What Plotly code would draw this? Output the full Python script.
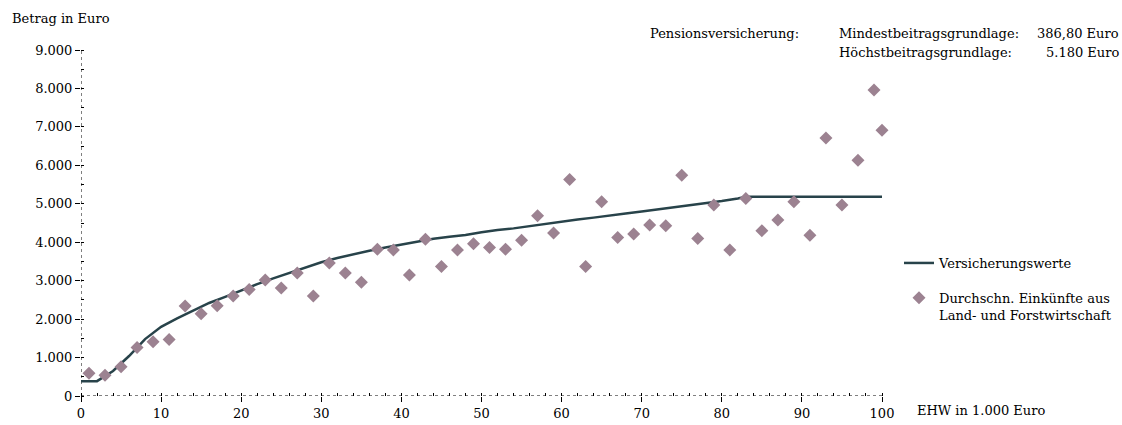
import plotly.graph_objects as go

# Versicherungswerte (Linie)
line_x = [0, 2, 4, 6, 8, 10, 12, 14, 16, 18, 20, 22, 24, 26, 28, 30, 32, 34, 36, 38, 40,
          42, 44, 46, 48, 50, 52, 54, 56, 58, 60, 62, 64, 66, 68, 70, 72, 74, 76, 78, 80,
          82, 83, 100]
line_y = [386.8, 386.8, 650, 1040, 1480, 1800, 2020, 2230, 2420, 2580, 2750, 2910, 3060,
          3200, 3350, 3480, 3590, 3690, 3780, 3860, 3940, 4020, 4090, 4140, 4190, 4260,
          4320, 4360, 4420, 4480, 4540, 4590, 4640, 4700, 4750, 4800, 4850, 4910, 4960,
          5010, 5070, 5140, 5180, 5180]

# Durchschn. Einkuenfte aus Land- und Forstwirtschaft (Punkte)
pts_x = [1, 3, 5, 7, 9, 11, 13, 15, 17, 19, 21, 23, 25, 27, 29, 31, 33, 35, 37, 39,
         41, 43, 45, 47, 49, 51, 53, 55, 57, 59, 61, 63, 65, 67, 69, 71, 73, 75, 77, 79,
         81, 83, 85, 87, 89, 91, 93, 95, 97, 99, 100]
pts_y = [590, 540, 760, 1260, 1410, 1470, 2340, 2140, 2350, 2600, 2770, 3020, 2810, 3200,
         2600, 3460, 3200, 2960, 3820, 3800, 3150, 4080, 3370, 3800, 3960, 3860, 3820,
         4050, 4690, 4240, 5630, 3370, 5050, 4120, 4215, 4450, 4430, 5740, 4100, 4970,
         3800, 5140, 4300, 4580, 5050, 4180, 6710, 4970, 6130, 7960, 6910]

y_ticks = [0, 1000, 2000, 3000, 4000, 5000, 6000, 7000, 8000, 9000]
y_labels = ["0", "1.000", "2.000", "3.000", "4.000", "5.000", "6.000", "7.000", "8.000", "9.000"]
x_ticks = [0, 10, 20, 30, 40, 50, 60, 70, 80, 90, 100]

FONT = "DejaVu Serif"
LINE_COL = "#28434a"
PT_COL = "#9c8291"

fig = go.Figure()
fig.add_trace(go.Scatter(x=line_x, y=line_y, mode="lines", name="Versicherungswerte",
                         legendgroup="a",
                         line=dict(color=LINE_COL, width=2.5), cliponaxis=False))
fig.add_trace(go.Scatter(x=pts_x, y=pts_y, mode="markers", legendgroup="b",
                         name="Durchschn. Einkünfte aus<br>Land- und Forstwirtschaft",
                         marker=dict(symbol="diamond", size=10, color=PT_COL), cliponaxis=False))

# gepunktete Achsenlinien
fig.add_shape(type="line", xref="x", yref="y", x0=0, x1=100, y0=0, y1=0,
              line=dict(color="black", width=1, dash="dot"), layer="below")
fig.add_shape(type="line", xref="x", yref="y", x0=0, x1=0, y0=0, y1=9000,
              line=dict(color="black", width=1, dash="dot"), layer="below")

fig.update_xaxes(range=[0, 100], tickvals=x_ticks, showgrid=False, zeroline=False,
                 showline=False, ticks="outside", ticklen=5, tickcolor="black", automargin=False,
                 minor=dict(dtick=2, ticks="inside", ticklen=3, tickcolor="black", showgrid=False))
fig.update_yaxes(range=[0, 9000], tickvals=y_ticks, ticktext=y_labels, showgrid=False,
                 zeroline=False, showline=False, ticks="outside", ticklen=5, tickcolor="black",
                 automargin=False,
                 minor=dict(dtick=500, ticks="inside", ticklen=3, tickcolor="black", showgrid=False))

def px(x):
    return (x - 81) / 801

def py(y):
    return (396 - y) / 346

notes = [
    ("Betrag in Euro", 10, 18, "left"),
    ("EHW in 1.000 Euro", 915, 410, "left"),
    ("Pensionsversicherung:", 648, 33, "left"),
    ("Mindestbeitragsgrundlage:", 837, 33, "left"),
    ("Höchstbeitragsgrundlage:", 837, 52, "left"),
    ("386,80 Euro", 1121, 33, "right"),
    ("5.180 Euro", 1121, 52, "right"),
]
for text, x, y, anchor in notes:
    fig.add_annotation(text=text, xref="paper", yref="paper", x=px(x), y=py(y),
                       xanchor=anchor, yanchor="middle", showarrow=False)

fig.update_layout(
    width=1122, height=425,
    margin=dict(l=81, r=240, t=50, b=29, autoexpand=False),
    plot_bgcolor="white", paper_bgcolor="white",
    font=dict(family=FONT, size=13, color="black"),
    showlegend=True,
    legend=dict(x=px(899), y=py(248), xanchor="left", yanchor="top", traceorder="grouped",
                font=dict(size=13), tracegroupgap=15, itemwidth=30, valign="top"),
)

fig.write_html("out.html", config={"displayModeBar": False},
               post_script="document.body.style.margin='0';")
